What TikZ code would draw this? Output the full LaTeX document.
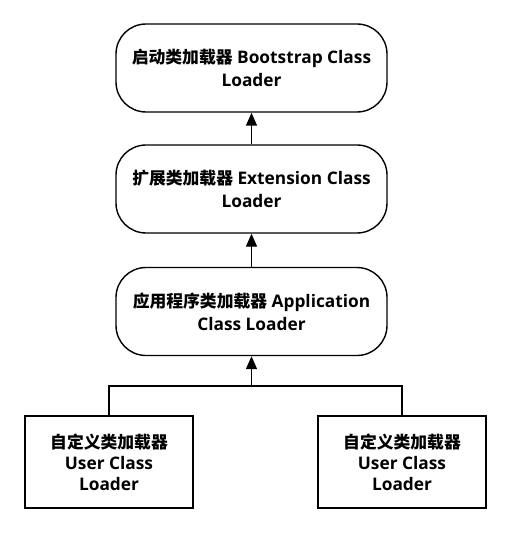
\documentclass[tikz,border=0pt]{standalone}
\usepackage{fontspec}
\setmainfont{Open Sans}
\newfontfamily\cjk{Noto Sans CJK SC}
\usetikzlibrary{arrows.meta}
\tikzset{
  loader/.style={draw, line width=1.4pt, rounded corners=30pt, minimum width=271pt, minimum height=88pt, align=center, font=\fontsize{17.3}{23}\selectfont\bfseries, inner sep=0pt},
  userbox/.style={draw, line width=1.4pt, minimum width=168pt, minimum height=92pt, align=center, font=\fontsize{17.3}{21}\selectfont\bfseries, inner sep=0pt},
  link/.style={line width=1.4pt, -{Triangle[length=13pt,width=11pt]}},
  plain/.style={line width=1.4pt}
}
\newcommand{\zh}[1]{{\cjk\fontsize{16.8}{23}\selectfont\bfseries #1}}
\begin{document}
\begin{tikzpicture}[x=1pt,y=-1pt]
\useasboundingbox (0,0) rectangle (511,534);
\node[loader] (boot) at (251.5,68) {\zh{启动类加载器} Bootstrap Class\\Loader};
\node[loader] (ext) at (251.5,189) {\zh{扩展类加载器} Extension Class\\Loader};
\node[loader] (app) at (251.5,311.5) {\zh{应用程序类加载器} Application\\Class Loader};
\node[userbox] (u1) at (109,462) {\zh{自定义类加载器}\\User Class\\Loader};
\node[userbox] (u2) at (402,462) {\zh{自定义类加载器}\\User Class\\Loader};
\coordinate (j) at (251.5,386);
\draw[link] (ext) -- (boot);
\draw[link] (app) -- (ext);
\draw[plain] (u1.north) |- (j) -| (u2.north);
\draw[link] (j) -- (app);
\end{tikzpicture}
\end{document}
